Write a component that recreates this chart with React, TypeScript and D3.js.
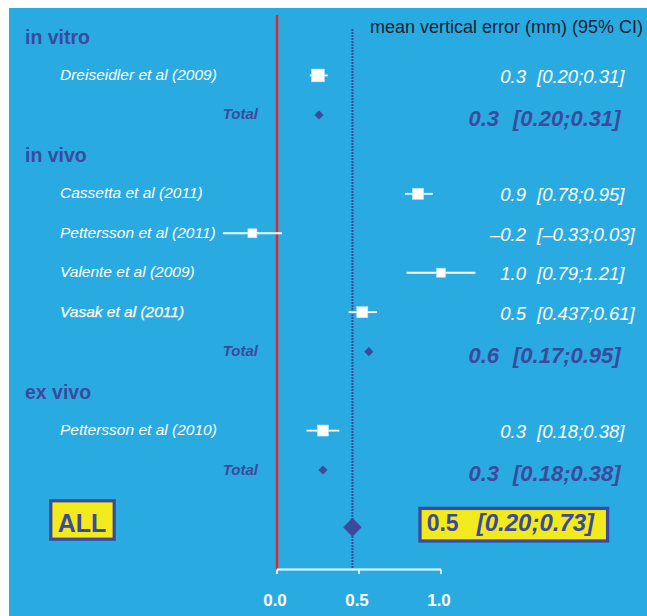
import * as d3 from 'd3';

// forest plot: mean vertical error (mm), 95% CI
const GROUPS = ['in vitro', 'in vivo', 'ex vivo'];
const STUDIES = [
  'Dreiseidler et al (2009)',
  'Cassetta et al (2011)',
  'Pettersson et al (2011)',
  'Valente et al (2009)',
  'Vasak et al (2011)',
  'Pettersson et al (2010)',
];
const STUDY_GROUP = [0, 1, 1, 1, 1, 2];
const MEANS = [0.25, 0.86, -0.15, 1.0, 0.52, 0.28];
const LOWER = [0.2, 0.78, -0.33, 0.79, 0.437, 0.18];
const UPPER = [0.31, 0.95, 0.03, 1.21, 0.61, 0.38];
const WEIGHTS = [16, 12, 8, 8, 12, 12];
const EST_LABELS = ['0.3', '0.9', '\u20130.2', '1.0', '0.5', '0.3'];
const CI_LABELS = ['[0.20;0.31]', '[0.78;0.95]', '[\u20130.33;0.03]', '[0.79;1.21]', '[0.437;0.61]', '[0.18;0.38]'];

const TOTAL_MEANS = [0.256, 0.56, 0.28];
const TOTAL_EST = ['0.3', '0.6', '0.3'];
const TOTAL_CI = ['[0.20;0.31]', '[0.17;0.95]', '[0.18;0.38]'];

const OVERALL_MEAN = 0.46;
const OVERALL_EST = '0.5';
const OVERALL_CI = '[0.20;0.73]';

const X_TICKS = [0, 0.5, 1.0];
const X_TICK_LABELS = ['0.0', '0.5', '1.0'];

const W = 647;
const H = 616;
const BG = '#29abe2';
const DARK = '#3c4a9e';
const RED = '#e4262a';
const YELLOW = '#f2ea1c';
const FONT = '"Liberation Sans", Arial, sans-serif';
const IT = { fontStyle: 'italic' } as const;

type Row = { kind: 'header' | 'study' | 'total'; idx: number };

export default function App() {
  // rows: header, studies, total for each group
  const rows: Row[] = [];
  GROUPS.forEach((_, g) => {
    rows.push({ kind: 'header', idx: g });
    STUDIES.forEach((_, s) => {
      if (STUDY_GROUP[s] === g) rows.push({ kind: 'study', idx: s });
    });
    rows.push({ kind: 'total', idx: g });
  });

  const x = d3.scaleLinear().domain([0, 1]).range([277, 441]);
  const y = d3.scaleLinear().domain([0, rows.length - 1]).range([36, 470]);
  const overallY = y(12.45);
  const size = d3.scaleSqrt().domain([0, d3.max(WEIGHTS) as number]).range([0, 12.7]);

  const axisY = 569.5;
  const diamond = (cx: number, cy: number, hw: number, hh: number) =>
    `M${cx - hw},${cy}L${cx},${cy - hh}L${cx + hw},${cy}L${cx},${cy + hh}Z`;

  return (
    <svg
      width={W}
      height={H}
      style={{ position: 'absolute', left: 0, top: 0, display: 'block', fontFamily: FONT }}
    >
      <rect x={0} y={0} width={W} height={H} fill="#fff" />
      <rect x={9} y={8} width={W - 9} height={H - 8} fill={BG} />

      <text x={370} y={33.3} fontSize={18} fill="#1e2233">
        mean vertical error (mm) (95% CI)
      </text>

      {/* reference lines */}
      <line x1={x(0)} x2={x(0)} y1={15} y2={axisY} stroke={RED} strokeWidth={2.5} />
      <line
        x1={x(OVERALL_MEAN)}
        x2={x(OVERALL_MEAN)}
        y1={29}
        y2={568}
        stroke={DARK}
        strokeWidth={2}
        strokeDasharray="2 1"
      />

      {rows.map((r, i) => {
        const cy = y(i);
        if (r.kind === 'header') {
          return (
            <text key={i} x={25} y={cy + 7.5} fontSize={19.5} fontWeight="bold" fill={DARK}>
              {GROUPS[r.idx]}
            </text>
          );
        }
        if (r.kind === 'total') {
          const cx = x(TOTAL_MEANS[r.idx]);
          return (
            <g key={i}>
              <text x={258} y={cy + 4.5} fontSize={15} fontWeight="bold" style={IT} fill={DARK} textAnchor="end">
                Total
              </text>
              <path d={diamond(cx, cy, 4.6, 4.6)} fill={DARK} />
              <text x={499} y={cy + 11} fontSize={22} fontWeight="bold" style={IT} fill={DARK} textAnchor="end">
                {TOTAL_EST[r.idx]}
              </text>
              <text x={513} y={cy + 11} fontSize={22} fontWeight="bold" style={IT} fill={DARK}>
                {TOTAL_CI[r.idx]}
              </text>
            </g>
          );
        }
        const s = r.idx;
        const sz = size(WEIGHTS[s]);
        const bold = STUDIES[s].startsWith('Vasak');
        return (
          <g key={i}>
            <text
              x={60}
              y={cy + 4.5}
              fontSize={15.5}
              style={IT}
              fill="#fff"
              stroke={bold ? '#fff' : 'none'}
              strokeWidth={bold ? 0.25 : 0}
            >
              {STUDIES[s]}
            </text>
            <line x1={x(LOWER[s])} x2={x(UPPER[s])} y1={cy} y2={cy} stroke="#fff" strokeWidth={1.8} />
            <rect x={x(MEANS[s]) - sz / 2} y={cy - sz / 2} width={sz} height={sz} fill="#fff" stroke="#bfe6f7" strokeWidth={0.6} />
            <text x={526} y={cy + 7.5} fontSize={18.5} style={IT} fill="#fff" textAnchor="end">
              {EST_LABELS[s]}
            </text>
            <text x={537} y={cy + 7.5} fontSize={18.5} style={IT} fill="#fff">
              {CI_LABELS[s]}
            </text>
          </g>
        );
      })}

      {/* overall */}
      <rect x={50.8} y={500.8} width={63.4} height={38.4} fill={YELLOW} stroke={DARK} strokeWidth={3.2} />
      <text x={82} y={531.5} fontSize={25} fontWeight="bold" fill={DARK} textAnchor="middle">
        ALL
      </text>
      <path d={diamond(x(OVERALL_MEAN), overallY, 9.2, 9.5)} fill={DARK} />
      <rect x={420} y={508.4} width={187.6} height={32.6} fill={YELLOW} stroke={DARK} strokeWidth={3.3} />
      <text x={426.7} y={531} fontSize={23} fontWeight="bold" fill={DARK}>
        {OVERALL_EST}
      </text>
      <text x={476.7} y={531} fontSize={24} fontWeight="bold" style={IT} fill={DARK}>
        {OVERALL_CI}
      </text>

      {/* x axis */}
      <line x1={x(0)} x2={x(1)} y1={axisY} y2={axisY} stroke="#fff" strokeWidth={2} />
      {X_TICKS.map((t, i) => (
        <g key={t}>
          <line x1={x(t)} x2={x(t)} y1={axisY} y2={axisY + 4.5} stroke="#fff" strokeWidth={1.6} />
          <text x={x(t) - 2} y={605.5} fontSize={17} fontWeight="bold" fill="#fff" textAnchor="middle">
            {X_TICK_LABELS[i]}
          </text>
        </g>
      ))}
    </svg>
  );
}
